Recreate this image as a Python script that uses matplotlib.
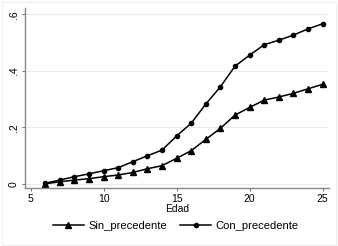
import matplotlib
matplotlib.use('Agg')
import matplotlib.pyplot as plt
from matplotlib.patches import Rectangle

plt.rcParams['font.family'] = ['Liberation Sans', 'DejaVu Sans']

edad = [6, 7, 8, 9, 10, 11, 12, 13, 14, 15, 16, 17, 18, 19, 20, 21, 22, 23, 24, 25]
sin_precedente = [0.0, 0.007, 0.013, 0.018, 0.025, 0.031, 0.040, 0.053, 0.064, 0.090,
                  0.117, 0.157, 0.196, 0.243, 0.270, 0.296, 0.307, 0.320, 0.336, 0.352]
con_precedente = [0.002, 0.013, 0.025, 0.035, 0.046, 0.057, 0.078, 0.099, 0.119, 0.169,
                  0.214, 0.282, 0.343, 0.416, 0.455, 0.492, 0.508, 0.526, 0.548, 0.566]
xticks = [5, 10, 15, 20, 25]
yticks = [0, 0.2, 0.4, 0.6]
ytick_labels = ['0', '.2', '.4', '.6']

fig = plt.figure(figsize=(3.38, 2.46), dpi=100)
fig.patches.append(Rectangle((0.006, 0.006), 0.988, 0.985, transform=fig.transFigure,
                             fill=False, edgecolor='#eeeeee', linewidth=0.8))
ax = fig.add_axes([25 / 338, 1 - 188 / 246, (329 - 25) / 338, (188 - 8) / 246])

ax.plot(edad, sin_precedente, color='black', linewidth=1.1, marker='^', markersize=4.5,
        label='Sin_precedente')
ax.plot(edad, con_precedente, color='black', linewidth=1.1, marker='o', markersize=3,
        label='Con_precedente')

ax.set_xlim(4.62, 25.44)
ax.set_ylim(-0.015, 0.622)
ax.set_xticks(xticks)
ax.set_yticks(yticks)
ax.set_yticklabels(ytick_labels, rotation=90, va='center')
ax.tick_params(labelsize=7.5, length=2.5, width=0.6, color='#555555', pad=2)
ax.grid(axis='y', color='#eaeaea', linewidth=0.8)
ax.set_axisbelow(True)
for s in ['top', 'right']:
    ax.spines[s].set_visible(False)
for s in ['left', 'bottom']:
    ax.spines[s].set_color('#888888')
    ax.spines[s].set_linewidth(1.0)
ax.set_xlabel('Edad', fontsize=7.5, labelpad=0)

fig.legend(loc='center', bbox_to_anchor=(0.52, 1 - 226 / 246), ncol=2, frameon=False,
           fontsize=8, handlelength=2.8, columnspacing=1.2, handletextpad=0.4)

fig.savefig('out.png', dpi=100)
